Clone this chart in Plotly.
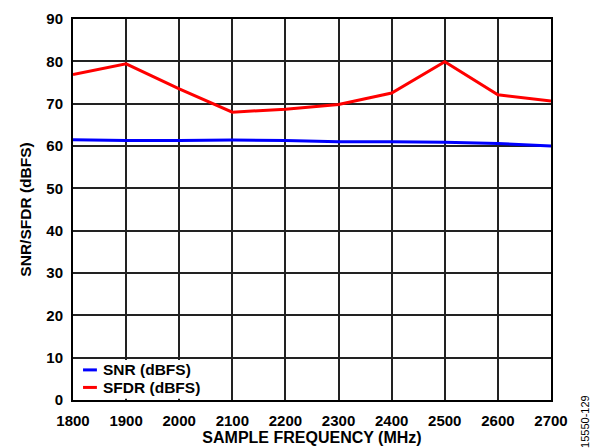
import plotly.graph_objects as go

freq_mhz = [1800, 1900, 2000, 2100, 2200, 2300, 2400, 2500, 2600, 2700]
snr_dbfs = [61.5, 61.3, 61.3, 61.4, 61.3, 61.0, 61.0, 60.9, 60.6, 60.0]
sfdr_dbfs = [76.9, 79.4, 73.5, 68.0, 68.7, 69.8, 72.5, 79.9, 72.1, 70.6]

legend_names = ["SNR (dBFS)", "SFDR (dBFS)"]
colors = ["#0000ff", "#ff0000"]

font_family = "Liberation Sans, Arial, sans-serif"

fig = go.Figure()

for name, vals, col in zip(legend_names, [snr_dbfs, sfdr_dbfs], colors):
    fig.add_trace(
        go.Scatter(
            x=freq_mhz,
            y=vals,
            mode="lines",
            name=name,
            line=dict(color=col, width=3),
            showlegend=False,
        )
    )

# White box behind the legend (hides gridlines like the original)
fig.add_shape(
    type="rect", xref="paper", yref="paper",
    x0=0.002, x1=0.29, y0=0.003, y1=0.105,
    fillcolor="white", line=dict(width=0), layer="above",
)

# Hand-made legend with short line swatches
for i, (name, col) in enumerate(zip(legend_names, colors)):
    ypos = 0.079 - i * 0.046
    fig.add_shape(
        type="line", xref="paper", yref="paper",
        x0=0.021, x1=0.050, y0=ypos, y1=ypos,
        line=dict(color=col, width=3), layer="above",
    )
    fig.add_annotation(
        text="<b>%s</b>" % name, xref="paper", yref="paper",
        x=0.058, y=ypos, xanchor="left", yanchor="middle",
        showarrow=False, font=dict(size=15.5, color="black", family=font_family),
    )

fig.add_annotation(
    text="15550-129", xref="paper", yref="paper",
    x=1.071, y=-0.055, xanchor="center", yanchor="middle", textangle=-90,
    showarrow=False, font=dict(size=11, color="black", family=font_family),
)

# page body has an 8px margin, so the figure is a bit smaller than the window
fig.update_layout(
    width=599,
    height=440,
    margin=dict(l=65, r=56, t=11, b=48),
    paper_bgcolor="white",
    plot_bgcolor="white",
    font=dict(family=font_family, size=15, color="black"),
    xaxis=dict(
        range=[1800, 2700],
        tickvals=freq_mhz,
        ticktext=["<b>%d</b>" % f for f in freq_mhz],
        tickfont=dict(size=15),
        showgrid=True,
        gridcolor="#222222",
        gridwidth=1.5,
        zeroline=False,
        showline=True,
        linecolor="black",
        linewidth=2,
        mirror=True,
        ticks="",
        ticklabelstandoff=6,
        automargin=False,
        title=dict(text="<b>SAMPLE FREQUENCY (MHz)</b>", standoff=3,
                   font=dict(size=16)),
    ),
    yaxis=dict(
        range=[0, 90],
        tickvals=list(range(0, 91, 10)),
        ticktext=["<b>%d</b>" % v for v in range(0, 91, 10)],
        tickfont=dict(size=15),
        showgrid=True,
        gridcolor="#222222",
        gridwidth=1.5,
        zeroline=False,
        showline=True,
        linecolor="black",
        linewidth=2,
        mirror=True,
        ticks="",
        ticklabelstandoff=5,
        automargin=False,
        title=dict(text="<b>SNR/SFDR (dBFS)</b>", standoff=11,
                   font=dict(size=15.5)),
    ),
)

fig.write_html("out.html")
